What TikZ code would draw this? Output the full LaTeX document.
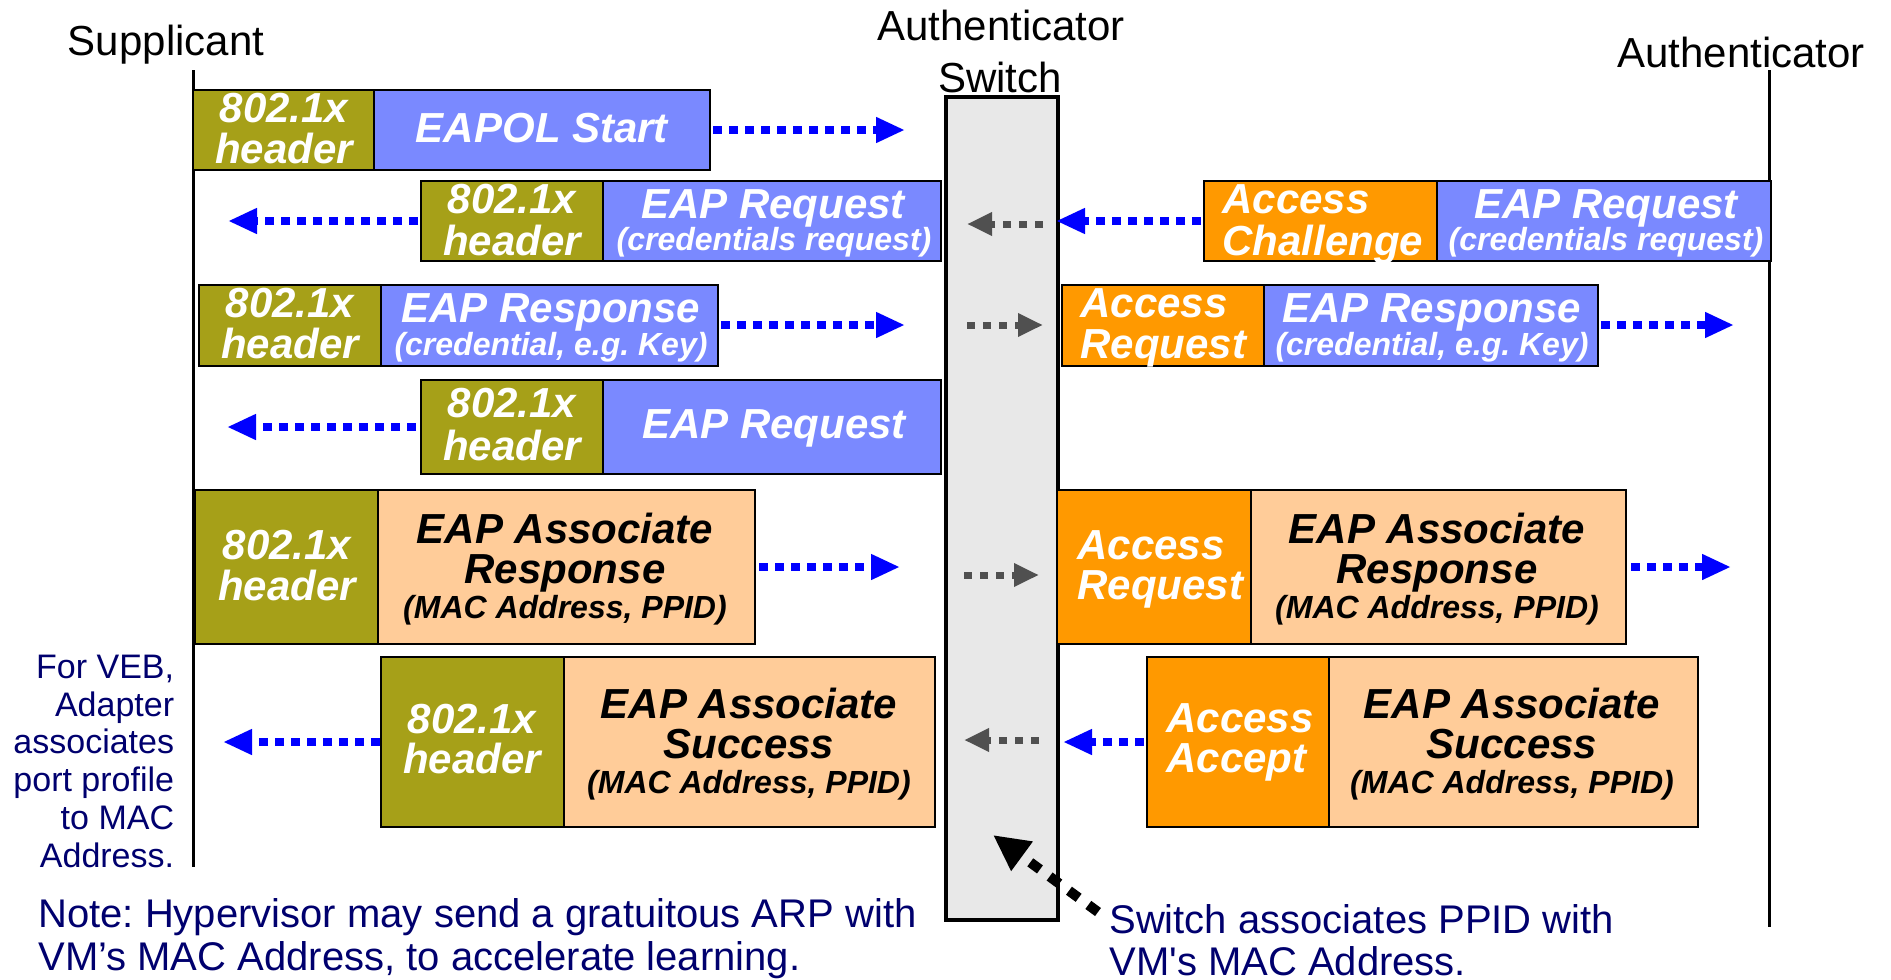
\documentclass[tikz,border=0pt]{standalone}
\usepackage{fontspec}
\setmainfont{Liberation Sans}
\newfontfamily\plainquotes[Ligatures=TeXOff]{Liberation Sans}
\usetikzlibrary{arrows.meta,fit}
\definecolor{hdrolive}{RGB}{166,160,24}
\definecolor{eapblue}{RGB}{122,137,255}
\definecolor{radorange}{RGB}{255,153,0}
\definecolor{assocpeach}{RGB}{255,204,153}
\definecolor{switchgray}{RGB}{232,232,232}
\definecolor{notenavy}{RGB}{0,0,110}
\definecolor{relaygray}{RGB}{80,80,80}
\begin{document}
\frenchspacing
\begin{tikzpicture}[x=0.5pt,y=-0.5pt,
  lifeline/.style={line width=1.5pt},
  switchbox/.style={draw, line width=2pt, fill=switchgray, inner sep=0pt},
  pkt/.style={draw=black, line width=1.2pt, inner sep=0pt},
  hdr/.style={pkt, fill=hdrolive},
  eapbox/.style={pkt, fill=eapblue},
  radbox/.style={pkt, fill=radorange},
  assocbox/.style={pkt, fill=assocpeach},
  title/.style={font=\fontsize{21}{21}\selectfont, inner sep=0pt, anchor=base},
  wbig/.style={text=white, font=\fontsize{21}{21}\selectfont\bfseries\itshape, inner sep=0pt, anchor=base},
  wsmall/.style={text=white, font=\fontsize{16}{16}\selectfont\bfseries\itshape, inner sep=0pt, anchor=base},
  kbig/.style={text=black, font=\fontsize{21}{21}\selectfont\bfseries\itshape, inner sep=0pt, anchor=base},
  ksmall/.style={text=black, font=\fontsize{16}{16}\selectfont\bfseries\itshape, inner sep=0pt, anchor=base},
  sidenote/.style={text=notenavy, font=\fontsize{17}{17}\selectfont, inner sep=0pt, anchor=base east},
  footnote/.style={text=notenavy, font=\fontsize{20}{20}\selectfont\frenchspacing, inner sep=0pt, anchor=base west},
  bluearrow/.style={draw=blue, line width=4pt, dash pattern=on 4.5pt off 3.5pt,
    -{Triangle[length=14.5pt,width=12pt]}},
  grayarrow/.style={draw=relaygray, line width=3.5pt, dash pattern=on 4pt off 4pt,
    -{Triangle[length=12.5pt,width=11pt]}},
  notearrow/.style={draw=black, line width=5pt, dash pattern=on 6pt off 6pt,
    -{Triangle[length=18pt,width=17pt]}}
]
\useasboundingbox (0,0) rectangle (1891,980);

% lifelines and party names
\node[title] (supplicant) at (166,55) {Supplicant};
\node[title] (authsw1) at (1001,40) {Authenticator};
\node[title] (authsw2) at (1000,92) {Switch};
\node[title] (authsrv) at (1741,67) {Authenticator};
\coordinate (suppTop) at (193,70);
\coordinate (suppBot) at (193,867);
\coordinate (srvTop) at (1769,70);
\coordinate (srvBot) at (1769,927);
\draw[lifeline] (suppTop) -- (suppBot);
\draw[lifeline] (srvTop) -- (srvBot);

% the switch
\node[switchbox, fit={(945.5,97) (1058,920)}] (switch) {};

% ---- EAPOL Start
\node[hdr, fit={(193,90) (374,170)}] (h1) {};
\node[eapbox, fit={(374,90) (710,170)}] (p1) {};
\node[wbig] (h1a) at (284,122) {802.1x};
\node[wbig] (h1b) at (284,163) {header};
\node[wbig] (p1a) at (542,142) {EAPOL Start};
\coordinate (a1s) at (713,130);
\coordinate (a1e) at (905,130);
\draw[bluearrow] (a1s) -- (a1e);

% ---- EAP Request (credentials request)
\node[hdr, fit={(421,181) (603,261)}] (h2) {};
\node[eapbox, fit={(603,181) (941,261)}] (p2) {};
\node[wbig] (h2a) at (512,213) {802.1x};
\node[wbig] (h2b) at (512,255) {header};
\node[wbig] (p2a) at (773,218) {EAP Request};
\node[wsmall] (p2b) at (774,250) {(credentials request)};
\node[radbox, fit={(1204,181) (1437,261)}] (r2) {};
\node[eapbox, fit={(1437,181) (1771,261)}] (q2) {};
\node[wbig, anchor=base west] (r2a) at (1222,213) {Access};
\node[wbig, anchor=base west] (r2b) at (1222,255) {Challenge};
\node[wbig] (q2a) at (1606,218) {EAP Request};
\node[wsmall] (q2b) at (1606,250) {(credentials request)};
\coordinate (a2s) at (1201,221);
\coordinate (a2e) at (1056,221);
\coordinate (g2s) at (1043,224);
\coordinate (g2e) at (967,224);
\coordinate (b2s) at (418,221);
\coordinate (b2e) at (228,221);
\draw[bluearrow] (a2s) -- (a2e);
\draw[grayarrow] (g2s) -- (g2e);
\draw[bluearrow] (b2s) -- (b2e);

% ---- EAP Response (credential)
\node[hdr, fit={(199,285) (381,366)}] (h3) {};
\node[eapbox, fit={(381,285) (718,366)}] (p3) {};
\node[wbig] (h3a) at (290,317) {802.1x};
\node[wbig] (h3b) at (290,358) {header};
\node[wbig] (p3a) at (551,322) {EAP Response};
\node[wsmall] (p3b) at (551,355) {(credential, e.g. Key)};
\node[radbox, fit={(1062,285) (1264,366)}] (r3) {};
\node[eapbox, fit={(1264,285) (1598,366)}] (q3) {};
\node[wbig, anchor=base west] (r3a) at (1080,317) {Access};
\node[wbig, anchor=base west] (r3b) at (1080,358) {Request};
\node[wbig] (q3a) at (1432,322) {EAP Response};
\node[wsmall] (q3b) at (1432,355) {(credential, e.g. Key)};
\coordinate (a3s) at (721,325);
\coordinate (a3e) at (905,325);
\coordinate (g3s) at (967,325);
\coordinate (g3e) at (1043,325);
\coordinate (b3s) at (1601,325);
\coordinate (b3e) at (1734,325);
\draw[bluearrow] (a3s) -- (a3e);
\draw[grayarrow] (g3s) -- (g3e);
\draw[bluearrow] (b3s) -- (b3e);

% ---- EAP Request
\node[hdr, fit={(421,380) (603,474)}] (h4) {};
\node[eapbox, fit={(603,380) (941,474)}] (p4) {};
\node[wbig] (h4a) at (512,417) {802.1x};
\node[wbig] (h4b) at (512,460) {header};
\node[wbig] (p4a) at (774,438) {EAP Request};
\coordinate (a4s) at (416,427);
\coordinate (a4e) at (227,427);
\draw[bluearrow] (a4s) -- (a4e);

% ---- EAP Associate Response
\node[hdr, fit={(195,490) (378,644)}] (h5) {};
\node[assocbox, fit={(378,490) (755,644)}] (p5) {};
\node[wbig] (h5a) at (287,559) {802.1x};
\node[wbig] (h5b) at (287,600) {header};
\node[kbig] (p5a) at (565,543) {EAP Associate};
\node[kbig] (p5b) at (565,583) {Response};
\node[ksmall] (p5c) at (565,618) {(MAC Address, PPID)};
\node[radbox, fit={(1057,490) (1251,644)}] (r5) {};
\node[assocbox, fit={(1251,490) (1626,644)}] (q5) {};
\node[wbig, anchor=base west] (r5a) at (1077,559) {Access};
\node[wbig, anchor=base west] (r5b) at (1077,599) {Request};
\node[kbig] (q5a) at (1437,543) {EAP Associate};
\node[kbig] (q5b) at (1437,583) {Response};
\node[ksmall] (q5c) at (1437,618) {(MAC Address, PPID)};
\coordinate (a5s) at (759,567);
\coordinate (a5e) at (900,567);
\coordinate (g5s) at (964,575);
\coordinate (g5e) at (1039,575);
\coordinate (b5s) at (1631,567);
\coordinate (b5e) at (1731,567);
\draw[bluearrow] (a5s) -- (a5e);
\draw[grayarrow] (g5s) -- (g5e);
\draw[bluearrow] (b5s) -- (b5e);

% ---- EAP Associate Success
\node[hdr, fit={(381,657) (564,827)}] (h6) {};
\node[assocbox, fit={(564,657) (935,827)}] (p6) {};
\node[wbig] (h6a) at (472,733) {802.1x};
\node[wbig] (h6b) at (472,773) {header};
\node[kbig] (p6a) at (749,718) {EAP Associate};
\node[kbig] (p6b) at (749,758) {Success};
\node[ksmall] (p6c) at (749,793) {(MAC Address, PPID)};
\node[radbox, fit={(1147,657) (1329,827)}] (r6) {};
\node[assocbox, fit={(1329,657) (1698,827)}] (q6) {};
\node[wbig, anchor=base west] (r6a) at (1166,732) {Access};
\node[wbig, anchor=base west] (r6b) at (1166,772) {Accept};
\node[kbig] (q6a) at (1512,718) {EAP Associate};
\node[kbig] (q6b) at (1512,758) {Success};
\node[ksmall] (q6c) at (1512,793) {(MAC Address, PPID)};
\coordinate (a6s) at (1144,742);
\coordinate (a6e) at (1063,742);
\coordinate (g6s) at (1039,740);
\coordinate (g6e) at (964,740);
\coordinate (b6s) at (380,742);
\coordinate (b6e) at (223,742);
\draw[bluearrow] (a6s) -- (a6e);
\draw[grayarrow] (g6s) -- (g6e);
\draw[bluearrow] (b6s) -- (b6e);

% ---- notes
\node[sidenote] (veb1) at (174.5,678) {For VEB,};
\node[sidenote] (veb2) at (174.5,716) {Adapter};
\node[sidenote] (veb3) at (174.5,753) {associates};
\node[sidenote] (veb4) at (174.5,791) {port profile};
\node[sidenote] (veb5) at (174.5,829) {to MAC};
\node[sidenote] (veb6) at (174.5,867) {Address.};
\node[footnote] (arp1) at (38,927) {Note: Hypervisor may send a gratuitous ARP with};
\node[footnote] (arp2) at (38,970) {VM’s MAC Address, to accelerate learning.};
\node[footnote] (sw1) at (1109,933) {Switch associates PPID with};
\node[footnote] (sw2) at (1109,975) {{\plainquotes VM's} MAC Address.};
\coordinate (noteTail) at (1098,912);
\coordinate (noteTip) at (993,835);
\draw[notearrow] (noteTail) -- (noteTip);
\end{tikzpicture}
\end{document}
